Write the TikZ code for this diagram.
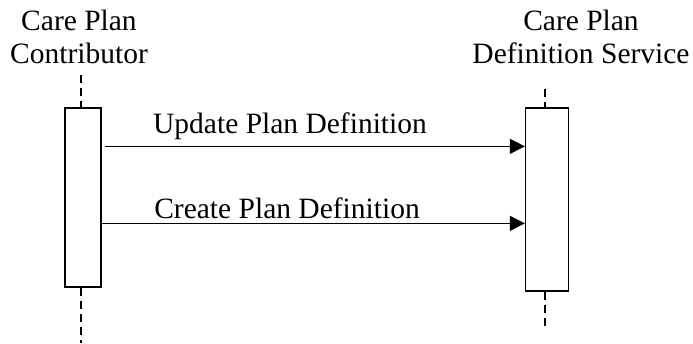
\documentclass[tikz,border=0pt]{standalone}
\usepackage{fontspec}
\setmainfont{Liberation Serif}
\usetikzlibrary{arrows.meta}

\begin{document}
\begin{tikzpicture}[
    x=1pt, y=-1pt,
    line width=1.3pt,
    actor_style/.style={
        align=center,
        inner sep=0pt,
        font=\fontsize{29.5}{33}\selectfont
        },
    act_style/.style={
        shape=rectangle,
        draw=black,
        fill=white,
        inner sep=0pt
        },
    lbl_style/.style={
        anchor=base,
        inner sep=0pt,
        font=\fontsize{29.5}{33}\selectfont
        },
    life_style/.style={
        draw=black,
        dash pattern=on 8pt off 5pt
        },
    msg_style/.style={
        draw=black,
        -{Triangle[length=15pt,width=15pt]}
        }]

    \useasboundingbox (0,0) rectangle (693,343);

    % participants
    \node[actor_style, anchor=base] (contrib) at (79,63) {Care Plan\\Contributor};
    \node[actor_style, anchor=base] (service) at (581,63) {Care Plan\\Definition Service};

    % activation boxes
    \node[act_style, minimum width=36pt, minimum height=179pt] (lbox) at (83,197.5) {};
    \node[act_style, minimum width=43pt, minimum height=183pt] (rbox) at (547,199.5) {};

    % lifelines
    \coordinate (ltop) at (81,75);
    \coordinate (lbot) at (81,343);
    \coordinate (rtop) at (545,89);
    \coordinate (rbot) at (545,328);
    \draw[life_style] (ltop) -- (ltop |- lbox.north);
    \draw[life_style] (ltop |- lbox.south) -- (lbot);
    \draw[life_style] (rtop) -- (rtop |- rbox.north);
    \draw[life_style] (rtop |- rbox.south) -- (rbot);

    % messages
    \draw[msg_style] ([xshift=3pt, yshift=-39pt]lbox.north east) -- ([yshift=-39pt]rbox.north west);
    \draw[msg_style] ([yshift=-116pt]lbox.north east) -- ([yshift=-116pt]rbox.north west);

    \node[lbl_style] (update) at (290,133) {Update Plan Definition};
    \node[lbl_style] (create) at (287,218) {Create Plan Definition};
\end{tikzpicture}
\end{document}
